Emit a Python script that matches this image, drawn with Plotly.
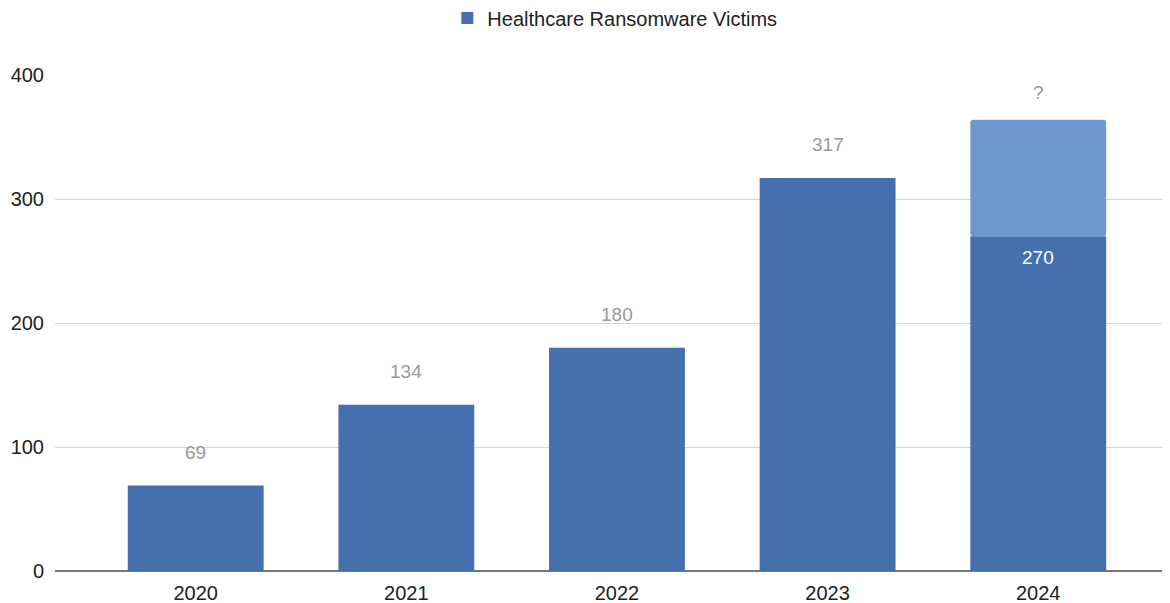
import plotly.graph_objects as go

years = ["2020", "2021", "2022", "2023", "2024"]
victims = [69, 134, 180, 317, 270]
projected_year = ["2024"]
projected_extra = [94]
labels = ["69", "134", "180", "317", "?"]
inner_labels = ["", "", "", "", "270"]

xs = list(range(len(years)))
main_color = "#4670ad"
light_color = "#6e98cb"
font = "Liberation Sans, Arial, sans-serif"

proj_x = [years.index(y) for y in projected_year]
proj_base = [victims[i] for i in proj_x]

fig = go.Figure()
fig.add_trace(go.Bar(
    x=xs, y=victims, name="Healthcare Ransomware Victims",
    marker=dict(color=main_color, line=dict(width=0)),
    width=0.645,
))
fig.add_trace(go.Bar(
    x=proj_x, y=projected_extra, base=proj_base, name="Projected", showlegend=False,
    marker=dict(color=light_color, line=dict(width=0), cornerradius=3),
    width=0.645,
))

totals = list(victims)
for i, b, p in zip(proj_x, proj_base, projected_extra):
    totals[i] = b + p
for i, (t, lab) in enumerate(zip(totals, labels)):
    fig.add_annotation(x=xs[i], y=t, text=lab, showarrow=False,
                       yshift=33 if lab != "?" else 27,
                       font=dict(family=font, size=19, color="#999999"))
for i, lab in enumerate(inner_labels):
    if lab:
        fig.add_annotation(x=xs[i], y=victims[i], text=lab, showarrow=False,
                           yshift=-21,
                           font=dict(family=font, size=19, color="#ffffff"))

# page body has an 8px margin, so the figure is offset by 8px
fig.update_layout(
    width=1162, height=595,
    barmode="overlay",
    plot_bgcolor="white", paper_bgcolor="white",
    margin=dict(l=47, r=2, t=67, b=32, autoexpand=False),
    font=dict(family=font, size=20, color="#222222"),
    showlegend=True,
    legend=dict(orientation="h", x=0.503, xanchor="center",
                y=(571 - 18) / 496, yanchor="middle",
                font=dict(family=font, size=20, color="#222222"),
                itemsizing="constant"),
    xaxis=dict(
        range=[-0.668, 4.616], tickmode="array", tickvals=xs, ticktext=years,
        showgrid=False, zeroline=False, showline=False,
        ticks="outside", ticklen=4, tickcolor="rgba(0,0,0,0)",
        tickfont=dict(family=font, size=20, color="#222222"),
    ),
    yaxis=dict(
        range=[0, 400], tickvals=[0, 100, 200, 300, 400],
        showgrid=True, gridcolor="#d6d6d6", gridwidth=1,
        zeroline=True, zerolinecolor="#777777", zerolinewidth=1.5,
        ticks="outside", ticklen=6, tickcolor="rgba(0,0,0,0)",
        tickfont=dict(family=font, size=20, color="#222222"),
    ),
)

fig.write_html("out.html")
